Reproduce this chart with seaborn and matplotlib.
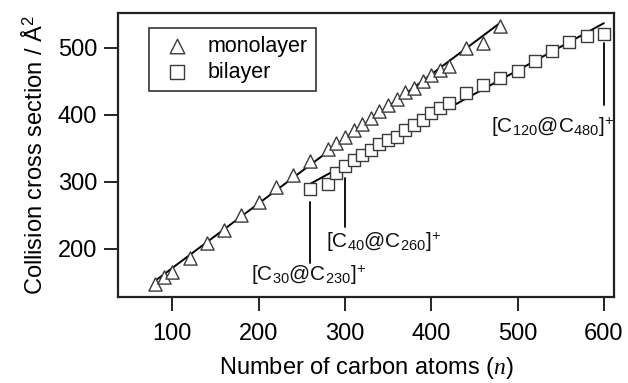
import numpy as np
import pandas as pd
import matplotlib
matplotlib.use("Agg")
import matplotlib.pyplot as plt
import seaborn as sns

# ---- data ----
mono_n = [80, 90, 100, 120, 140, 160, 180, 200, 220, 240, 260, 280, 290, 300,
          310, 320, 330, 340, 350, 360, 370, 380, 390, 400, 410, 420, 440, 460, 480]
mono_ccs = [147, 158, 166, 186, 208, 228, 250, 270, 292, 310, 331, 349, 358, 367,
            377, 387, 396, 406, 415, 423, 434, 440, 451, 459, 467, 473, 500, 507, 533]

bi_n = [260, 280, 290, 300, 310, 320, 330, 340, 350, 360, 370, 380, 390, 400,
        410, 420, 440, 460, 480, 500, 520, 540, 560, 580, 600]
bi_ccs = [289, 297, 313, 323, 333, 340, 348, 356, 362, 367, 377, 385, 392, 402,
          410, 417, 432, 445, 455, 465, 480, 495, 509, 517, 521]

x_ticks = [100, 200, 300, 400, 500, 600]
y_ticks = [200, 300, 400, 500]

ann_n = [260, 300, 600]
ann_labels = [r"[C$_{30}$@C$_{230}$]$^{+}$",
              r"[C$_{40}$@C$_{260}$]$^{+}$",
              r"[C$_{120}$@C$_{480}$]$^{+}$"]

# annotation geometry (layout, not data)
ann_line_top = [270, 306, 507]
ann_line_bottom = [179, 233, 415]
ann_text_x = [258, 345, 540]
ann_text_y = [160, 210, 381]

# ---- style ----
sns.set_theme(style="ticks")
plt.rcParams["font.family"] = ["Liberation Sans", "DejaVu Sans"]
plt.rcParams["mathtext.fontset"] = "custom"
plt.rcParams["mathtext.rm"] = "Liberation Sans"
plt.rcParams["mathtext.it"] = "Liberation Serif:italic"
plt.rcParams["mathtext.bf"] = "Liberation Sans:bold"
plt.rcParams["text.color"] = "black"
plt.rcParams["axes.labelcolor"] = "black"

fig = plt.figure(figsize=(6.28, 3.83), dpi=100)
ax = fig.add_axes([0.188, 0.2245, 0.790, 0.7415])

mono = pd.DataFrame({"n": mono_n, "ccs": mono_ccs})
bi = pd.DataFrame({"n": bi_n, "ccs": bi_ccs})

line_kws = dict(color="black", lw=1.4, zorder=2)
sns.regplot(data=mono, x="n", y="ccs", scatter=False, ci=None, ax=ax, line_kws=line_kws)
sns.regplot(data=bi, x="n", y="ccs", scatter=False, ci=None, ax=ax, line_kws=line_kws)

edge = "#3a3a3a"
sns.scatterplot(data=mono, x="n", y="ccs", marker="^", s=90, facecolor="white",
                edgecolor=edge, linewidth=1.0, ax=ax, label="monolayer", zorder=3)
sns.scatterplot(data=bi, x="n", y="ccs", marker="s", s=80, facecolor="white",
                edgecolor=edge, linewidth=1.0, ax=ax, label="bilayer", zorder=3)

# annotations
for xn, top, bot, tx, ty, lab in zip(ann_n, ann_line_top, ann_line_bottom,
                                     ann_text_x, ann_text_y, ann_labels):
    ax.plot([xn, xn], [bot, top], color="black", lw=1.3, zorder=1)
    ax.text(tx, ty, lab, ha="center", va="center", fontsize=15, color="#111111")

ax.set_xlim(37, 612)
ax.set_ylim(128, 552)
ax.set_xticks(x_ticks)
ax.set_yticks(y_ticks)
ax.tick_params(axis="both", direction="out", length=10, width=1.2,
               labelsize=17, colors="black", labelcolor="black")
ax.tick_params(axis="x", pad=9)
ax.tick_params(axis="y", pad=5)
for sp in ax.spines.values():
    sp.set_visible(True)
    sp.set_linewidth(1.6)
    sp.set_color("#222222")

ax.set_xlabel(r"Number of carbon atoms ($n$)", fontsize=17, labelpad=7, color="black")
ax.set_ylabel(r"Collision cross section / Å$^{2}$", fontsize=17, labelpad=8, color="black")

leg = ax.legend(loc="upper left", bbox_to_anchor=(0.062, 0.947), frameon=True,
                fancybox=False, edgecolor="black", fontsize=15.5,
                handletextpad=0.5, borderpad=0.35, labelspacing=0.25,
                handlelength=1.9, borderaxespad=0.0, markerscale=1.1)
leg.get_frame().set_linewidth(1.2)
for t in leg.get_texts():
    t.set_color("black")

fig.savefig("out.png", dpi=100)
